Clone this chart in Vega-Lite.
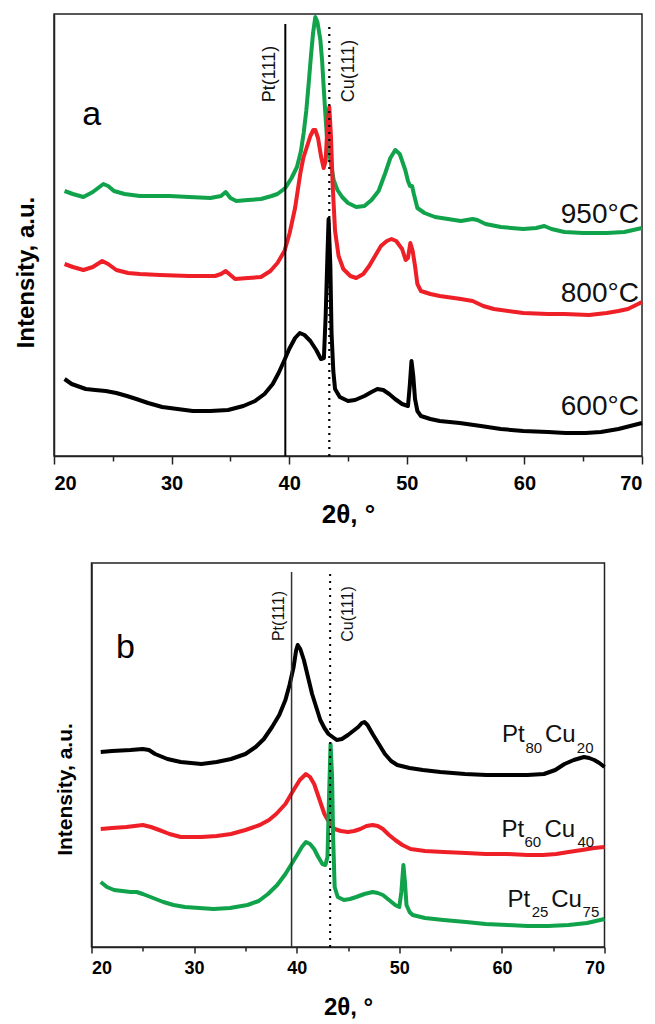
{
  "$schema": "https://vega.github.io/schema/vega-lite/v6.json",
  "padding": {"left": 13, "top": 13, "right": 2, "bottom": 2},
  "background": "white",
  "center": true,
  "bounds": "flush",
  "spacing": 107,
  "resolve": {"scale": {"color": "independent"}},
  "config": {
    "font": "Liberation Sans",
    "view": {"stroke": "#222", "strokeWidth": 1.5},
    "text": {"font": "Liberation Sans"},
    "axis": {"domainColor": "#222", "domainWidth": 1.5, "tickColor": "#222", "tickWidth": 1.5, "grid": false, "labelColor": "#000", "titleColor": "#000", "labelFont": "Liberation Sans", "titleFont": "Liberation Sans", "labelFontWeight": "bold", "titleFontWeight": "bold"}
  },
  "datasets": {
    "curvesA": [
      {"series":"950","theta":20.9,"intensity":265},{"series":"950","theta":21.6,"intensity":262},{"series":"950","theta":22.5,"intensity":259},{"series":"950","theta":23.3,"intensity":264},{"series":"950","theta":24.2,"intensity":272},{"series":"950","theta":24.6,"intensity":270},{"series":"950","theta":25.1,"intensity":265},{"series":"950","theta":26.0,"intensity":262},{"series":"950","theta":27.3,"intensity":260},{"series":"950","theta":29.8,"intensity":260},{"series":"950","theta":31.5,"intensity":259},{"series":"950","theta":33.3,"intensity":258},{"series":"950","theta":34.2,"intensity":260},{"series":"950","theta":34.6,"intensity":264},{"series":"950","theta":35.0,"intensity":258},{"series":"950","theta":35.5,"intensity":255},{"series":"950","theta":36.5,"intensity":256},{"series":"950","theta":37.6,"intensity":257},{"series":"950","theta":38.5,"intensity":260},{"series":"950","theta":39.0,"intensity":262},{"series":"950","theta":39.67,"intensity":268},{"series":"950","theta":40.2,"intensity":278},{"series":"950","theta":40.66,"intensity":289},{"series":"950","theta":41.0,"intensity":305},{"series":"950","theta":41.23,"intensity":323},{"series":"950","theta":41.45,"intensity":345},{"series":"950","theta":41.66,"intensity":373},{"series":"950","theta":41.85,"intensity":400},{"series":"950","theta":42.03,"intensity":423},{"series":"950","theta":42.22,"intensity":439},{"series":"950","theta":42.4,"intensity":434},{"series":"950","theta":42.65,"intensity":416},{"series":"950","theta":42.8,"intensity":395},{"series":"950","theta":42.93,"intensity":369},{"series":"950","theta":43.07,"intensity":343},{"series":"950","theta":43.2,"intensity":320},{"series":"950","theta":43.4,"intensity":303},{"series":"950","theta":43.78,"intensity":276},{"series":"950","theta":44.1,"intensity":266},{"series":"950","theta":44.5,"intensity":259},{"series":"950","theta":45.0,"intensity":253},{"series":"950","theta":45.7,"intensity":249},{"series":"950","theta":46.4,"intensity":250},{"series":"950","theta":47.0,"intensity":256},{"series":"950","theta":47.6,"intensity":265},{"series":"950","theta":48.17,"intensity":283},{"series":"950","theta":48.6,"intensity":298},{"series":"950","theta":49.02,"intensity":306},{"series":"950","theta":49.4,"intensity":302},{"series":"950","theta":49.87,"intensity":286},{"series":"950","theta":50.1,"intensity":275},{"series":"950","theta":50.27,"intensity":270},{"series":"950","theta":50.45,"intensity":270},{"series":"950","theta":50.6,"intensity":262},{"series":"950","theta":50.9,"intensity":248},{"series":"950","theta":51.5,"intensity":243},{"series":"950","theta":52.4,"intensity":239},{"series":"950","theta":53.5,"intensity":237},{"series":"950","theta":54.6,"intensity":235},{"series":"950","theta":55.6,"intensity":237},{"series":"950","theta":56.0,"intensity":236},{"series":"950","theta":56.7,"intensity":232},{"series":"950","theta":58.0,"intensity":229},{"series":"950","theta":59.9,"intensity":227},{"series":"950","theta":61.0,"intensity":228},{"series":"950","theta":61.7,"intensity":230},{"series":"950","theta":62.3,"intensity":227},{"series":"950","theta":63.4,"intensity":224},{"series":"950","theta":65.0,"intensity":223},{"series":"950","theta":67.0,"intensity":223},{"series":"950","theta":68.5,"intensity":224},{"series":"950","theta":70.0,"intensity":228},
      {"series":"800","theta":20.9,"intensity":192},{"series":"800","theta":21.6,"intensity":189},{"series":"800","theta":22.5,"intensity":186},{"series":"800","theta":23.3,"intensity":189},{"series":"800","theta":24.1,"intensity":195},{"series":"800","theta":24.6,"intensity":192},{"series":"800","theta":25.3,"intensity":186},{"series":"800","theta":26.3,"intensity":183},{"series":"800","theta":27.3,"intensity":182},{"series":"800","theta":29.0,"intensity":181},{"series":"800","theta":31.5,"intensity":180},{"series":"800","theta":33.7,"intensity":180},{"series":"800","theta":34.2,"intensity":182},{"series":"800","theta":34.6,"intensity":185},{"series":"800","theta":35.0,"intensity":181},{"series":"800","theta":35.4,"intensity":177},{"series":"800","theta":36.5,"intensity":178},{"series":"800","theta":37.6,"intensity":179},{"series":"800","theta":38.4,"intensity":185},{"series":"800","theta":39.0,"intensity":193},{"series":"800","theta":39.6,"intensity":205},{"series":"800","theta":40.04,"intensity":223},{"series":"800","theta":40.5,"intensity":248},{"series":"800","theta":40.95,"intensity":283},{"series":"800","theta":41.2,"intensity":298},{"series":"800","theta":41.5,"intensity":309},{"series":"800","theta":41.8,"intensity":320},{"series":"800","theta":42.05,"intensity":326},{"series":"800","theta":42.22,"intensity":326},{"series":"800","theta":42.45,"intensity":318},{"series":"800","theta":42.7,"intensity":300},{"series":"800","theta":42.93,"intensity":288},{"series":"800","theta":43.1,"intensity":295},{"series":"800","theta":43.25,"intensity":330},{"series":"800","theta":43.41,"intensity":349},{"series":"800","theta":43.55,"intensity":320},{"series":"800","theta":43.7,"intensity":270},{"series":"800","theta":43.9,"intensity":225},{"series":"800","theta":44.2,"intensity":200},{"series":"800","theta":44.6,"intensity":187},{"series":"800","theta":45.2,"intensity":180},{"series":"800","theta":45.7,"intensity":178},{"series":"800","theta":46.3,"intensity":182},{"series":"800","theta":46.8,"intensity":190},{"series":"800","theta":47.3,"intensity":200},{"series":"800","theta":47.8,"intensity":210},{"series":"800","theta":48.3,"intensity":215},{"series":"800","theta":48.7,"intensity":217},{"series":"800","theta":49.1,"intensity":215},{"series":"800","theta":49.6,"intensity":207},{"series":"800","theta":49.9,"intensity":196},{"series":"800","theta":50.1,"intensity":198},{"series":"800","theta":50.3,"intensity":213},{"series":"800","theta":50.5,"intensity":205},{"series":"800","theta":50.7,"intensity":190},{"series":"800","theta":50.9,"intensity":172},{"series":"800","theta":51.2,"intensity":165},{"series":"800","theta":52.0,"intensity":162},{"series":"800","theta":52.8,"intensity":160},{"series":"800","theta":54.6,"intensity":157},{"series":"800","theta":55.6,"intensity":155},{"series":"800","theta":56.5,"intensity":150},{"series":"800","theta":57.4,"intensity":147},{"series":"800","theta":59.9,"intensity":143},{"series":"800","theta":62.0,"intensity":142},{"series":"800","theta":63.4,"intensity":142},{"series":"800","theta":65.5,"intensity":141},{"series":"800","theta":67.0,"intensity":143},{"series":"800","theta":68.0,"intensity":145},{"series":"800","theta":68.8,"intensity":147},{"series":"800","theta":69.5,"intensity":151},{"series":"800","theta":70.0,"intensity":154},
      {"series":"600","theta":20.9,"intensity":77},{"series":"600","theta":21.5,"intensity":72},{"series":"600","theta":22.7,"intensity":67},{"series":"600","theta":23.5,"intensity":66},{"series":"600","theta":24.4,"intensity":65},{"series":"600","theta":25.3,"intensity":63},{"series":"600","theta":26.2,"intensity":60},{"series":"600","theta":27.0,"intensity":57},{"series":"600","theta":28.0,"intensity":53},{"series":"600","theta":29.2,"intensity":49},{"series":"600","theta":30.5,"intensity":47},{"series":"600","theta":31.8,"intensity":45},{"series":"600","theta":33.3,"intensity":45},{"series":"600","theta":34.8,"intensity":46},{"series":"600","theta":36.1,"intensity":50},{"series":"600","theta":37.1,"intensity":55},{"series":"600","theta":37.9,"intensity":62},{"series":"600","theta":38.6,"intensity":72},{"series":"600","theta":39.1,"intensity":83},{"series":"600","theta":39.6,"intensity":96},{"series":"600","theta":40.0,"intensity":107},{"series":"600","theta":40.5,"intensity":118},{"series":"600","theta":40.9,"intensity":123},{"series":"600","theta":41.3,"intensity":121},{"series":"600","theta":41.8,"intensity":115},{"series":"600","theta":42.3,"intensity":106},{"series":"600","theta":42.7,"intensity":97},{"series":"600","theta":42.95,"intensity":98},{"series":"600","theta":43.1,"intensity":140},{"series":"600","theta":43.25,"intensity":200},{"series":"600","theta":43.35,"intensity":237},{"series":"600","theta":43.5,"intensity":190},{"series":"600","theta":43.6,"intensity":123},{"series":"600","theta":43.75,"intensity":85},{"series":"600","theta":43.9,"intensity":67},{"series":"600","theta":44.3,"intensity":59},{"series":"600","theta":45.0,"intensity":55},{"series":"600","theta":45.6,"intensity":56},{"series":"600","theta":46.4,"intensity":60},{"series":"600","theta":47.0,"intensity":64},{"series":"600","theta":47.5,"intensity":67},{"series":"600","theta":48.0,"intensity":66},{"series":"600","theta":48.5,"intensity":62},{"series":"600","theta":49.0,"intensity":57},{"series":"600","theta":49.6,"intensity":52},{"series":"600","theta":50.1,"intensity":50},{"series":"600","theta":50.25,"intensity":70},{"series":"600","theta":50.4,"intensity":95},{"series":"600","theta":50.55,"intensity":80},{"series":"600","theta":50.7,"intensity":57},{"series":"600","theta":50.9,"intensity":45},{"series":"600","theta":51.2,"intensity":40},{"series":"600","theta":52.0,"intensity":37},{"series":"600","theta":52.8,"intensity":35},{"series":"600","theta":54.5,"intensity":33},{"series":"600","theta":56.3,"intensity":30},{"series":"600","theta":58.0,"intensity":27},{"series":"600","theta":59.9,"intensity":25},{"series":"600","theta":62.0,"intensity":24},{"series":"600","theta":63.5,"intensity":23},{"series":"600","theta":65.2,"intensity":23},{"series":"600","theta":66.5,"intensity":24},{"series":"600","theta":68.0,"intensity":27},{"series":"600","theta":69.0,"intensity":30},{"series":"600","theta":70.0,"intensity":33}
    ],
    "curvesB": [
      {"series":"Pt80Cu20","theta":20.9,"intensity":195},{"series":"Pt80Cu20","theta":22.0,"intensity":196},{"series":"Pt80Cu20","theta":23.8,"intensity":197},{"series":"Pt80Cu20","theta":25.0,"intensity":198},{"series":"Pt80Cu20","theta":25.6,"intensity":197},{"series":"Pt80Cu20","theta":26.2,"intensity":193},{"series":"Pt80Cu20","theta":27.4,"intensity":188},{"series":"Pt80Cu20","theta":28.7,"intensity":185},{"series":"Pt80Cu20","theta":30.7,"intensity":183},{"series":"Pt80Cu20","theta":32.2,"intensity":185},{"series":"Pt80Cu20","theta":33.6,"intensity":188},{"series":"Pt80Cu20","theta":35.0,"intensity":193},{"series":"Pt80Cu20","theta":36.0,"intensity":200},{"series":"Pt80Cu20","theta":36.8,"intensity":208},{"series":"Pt80Cu20","theta":37.6,"intensity":220},{"series":"Pt80Cu20","theta":38.3,"intensity":232},{"series":"Pt80Cu20","theta":38.9,"intensity":247},{"series":"Pt80Cu20","theta":39.3,"intensity":262},{"series":"Pt80Cu20","theta":39.7,"intensity":280},{"series":"Pt80Cu20","theta":39.95,"intensity":297},{"series":"Pt80Cu20","theta":40.1,"intensity":302},{"series":"Pt80Cu20","theta":40.35,"intensity":298},{"series":"Pt80Cu20","theta":40.7,"intensity":287},{"series":"Pt80Cu20","theta":41.1,"intensity":270},{"series":"Pt80Cu20","theta":41.5,"intensity":253},{"series":"Pt80Cu20","theta":41.9,"intensity":240},{"series":"Pt80Cu20","theta":42.3,"intensity":227},{"series":"Pt80Cu20","theta":42.7,"intensity":219},{"series":"Pt80Cu20","theta":43.1,"intensity":213},{"series":"Pt80Cu20","theta":43.5,"intensity":210},{"series":"Pt80Cu20","theta":43.9,"intensity":207},{"series":"Pt80Cu20","theta":44.4,"intensity":208},{"series":"Pt80Cu20","theta":45.0,"intensity":212},{"series":"Pt80Cu20","theta":45.5,"intensity":216},{"series":"Pt80Cu20","theta":46.0,"intensity":220},{"series":"Pt80Cu20","theta":46.35,"intensity":224},{"series":"Pt80Cu20","theta":46.6,"intensity":225},{"series":"Pt80Cu20","theta":46.9,"intensity":222},{"series":"Pt80Cu20","theta":47.4,"intensity":213},{"series":"Pt80Cu20","theta":48.0,"intensity":203},{"series":"Pt80Cu20","theta":48.6,"intensity":193},{"series":"Pt80Cu20","theta":49.2,"intensity":186},{"series":"Pt80Cu20","theta":49.8,"intensity":182},{"series":"Pt80Cu20","theta":51.0,"intensity":179},{"series":"Pt80Cu20","theta":52.3,"intensity":177},{"series":"Pt80Cu20","theta":54.0,"intensity":175},{"series":"Pt80Cu20","theta":56.4,"intensity":173},{"series":"Pt80Cu20","theta":58.5,"intensity":172},{"series":"Pt80Cu20","theta":60.4,"intensity":172},{"series":"Pt80Cu20","theta":62.5,"intensity":172},{"series":"Pt80Cu20","theta":64.1,"intensity":173},{"series":"Pt80Cu20","theta":65.2,"intensity":177},{"series":"Pt80Cu20","theta":66.1,"intensity":183},{"series":"Pt80Cu20","theta":67.0,"intensity":187},{"series":"Pt80Cu20","theta":68.0,"intensity":190},{"series":"Pt80Cu20","theta":68.5,"intensity":189},{"series":"Pt80Cu20","theta":69.0,"intensity":187},{"series":"Pt80Cu20","theta":69.5,"intensity":184},{"series":"Pt80Cu20","theta":70.0,"intensity":180},
      {"series":"Pt60Cu40","theta":20.9,"intensity":118},{"series":"Pt60Cu40","theta":22.0,"intensity":119},{"series":"Pt60Cu40","theta":23.4,"intensity":120},{"series":"Pt60Cu40","theta":25.0,"intensity":122},{"series":"Pt60Cu40","theta":25.8,"intensity":120},{"series":"Pt60Cu40","theta":26.6,"intensity":117},{"series":"Pt60Cu40","theta":27.6,"intensity":113},{"series":"Pt60Cu40","theta":28.7,"intensity":110},{"series":"Pt60Cu40","theta":30.7,"intensity":110},{"series":"Pt60Cu40","theta":32.2,"intensity":111},{"series":"Pt60Cu40","theta":33.6,"intensity":113},{"series":"Pt60Cu40","theta":35.0,"intensity":117},{"series":"Pt60Cu40","theta":36.4,"intensity":122},{"series":"Pt60Cu40","theta":37.3,"intensity":127},{"series":"Pt60Cu40","theta":38.0,"intensity":133},{"series":"Pt60Cu40","theta":38.9,"intensity":143},{"series":"Pt60Cu40","theta":39.7,"intensity":157},{"series":"Pt60Cu40","theta":40.3,"intensity":167},{"series":"Pt60Cu40","theta":40.9,"intensity":173},{"series":"Pt60Cu40","theta":41.3,"intensity":170},{"series":"Pt60Cu40","theta":41.7,"intensity":163},{"series":"Pt60Cu40","theta":42.2,"intensity":148},{"series":"Pt60Cu40","theta":42.7,"intensity":133},{"series":"Pt60Cu40","theta":43.2,"intensity":124},{"series":"Pt60Cu40","theta":43.7,"intensity":118},{"series":"Pt60Cu40","theta":44.3,"intensity":116},{"series":"Pt60Cu40","theta":45.0,"intensity":115},{"series":"Pt60Cu40","theta":45.6,"intensity":116},{"series":"Pt60Cu40","theta":46.2,"intensity":118},{"series":"Pt60Cu40","theta":46.8,"intensity":121},{"series":"Pt60Cu40","theta":47.4,"intensity":122},{"series":"Pt60Cu40","theta":47.9,"intensity":121},{"series":"Pt60Cu40","theta":48.4,"intensity":118},{"series":"Pt60Cu40","theta":49.0,"intensity":112},{"series":"Pt60Cu40","theta":49.6,"intensity":107},{"series":"Pt60Cu40","theta":50.3,"intensity":102},{"series":"Pt60Cu40","theta":51.1,"intensity":98},{"series":"Pt60Cu40","theta":52.5,"intensity":96},{"series":"Pt60Cu40","theta":54.3,"intensity":95},{"series":"Pt60Cu40","theta":56.5,"intensity":94},{"series":"Pt60Cu40","theta":58.4,"intensity":93},{"series":"Pt60Cu40","theta":60.5,"intensity":93},{"series":"Pt60Cu40","theta":62.5,"intensity":92},{"series":"Pt60Cu40","theta":64.0,"intensity":92},{"series":"Pt60Cu40","theta":65.3,"intensity":93},{"series":"Pt60Cu40","theta":66.5,"intensity":95},{"series":"Pt60Cu40","theta":67.8,"intensity":97},{"series":"Pt60Cu40","theta":69.0,"intensity":99},{"series":"Pt60Cu40","theta":70.0,"intensity":100},
      {"series":"Pt25Cu75","theta":20.9,"intensity":65},{"series":"Pt25Cu75","theta":21.5,"intensity":60},{"series":"Pt25Cu75","theta":22.2,"intensity":57},{"series":"Pt25Cu75","theta":23.0,"intensity":56},{"series":"Pt25Cu75","theta":23.8,"intensity":55},{"series":"Pt25Cu75","theta":24.4,"intensity":55},{"series":"Pt25Cu75","theta":25.0,"intensity":53},{"series":"Pt25Cu75","theta":26.0,"intensity":49},{"series":"Pt25Cu75","theta":27.0,"intensity":45},{"series":"Pt25Cu75","theta":28.0,"intensity":42},{"series":"Pt25Cu75","theta":29.1,"intensity":40},{"series":"Pt25Cu75","theta":30.5,"intensity":39},{"series":"Pt25Cu75","theta":31.9,"intensity":38},{"series":"Pt25Cu75","theta":33.5,"intensity":39},{"series":"Pt25Cu75","theta":35.2,"intensity":42},{"series":"Pt25Cu75","theta":36.3,"intensity":46},{"series":"Pt25Cu75","theta":37.2,"intensity":53},{"series":"Pt25Cu75","theta":38.1,"intensity":62},{"series":"Pt25Cu75","theta":38.9,"intensity":73},{"series":"Pt25Cu75","theta":39.5,"intensity":83},{"series":"Pt25Cu75","theta":40.1,"intensity":93},{"series":"Pt25Cu75","theta":40.5,"intensity":100},{"series":"Pt25Cu75","theta":40.9,"intensity":105},{"series":"Pt25Cu75","theta":41.3,"intensity":103},{"series":"Pt25Cu75","theta":41.7,"intensity":98},{"series":"Pt25Cu75","theta":42.1,"intensity":90},{"series":"Pt25Cu75","theta":42.5,"intensity":83},{"series":"Pt25Cu75","theta":42.8,"intensity":82},{"series":"Pt25Cu75","theta":43.0,"intensity":90},{"series":"Pt25Cu75","theta":43.15,"intensity":150},{"series":"Pt25Cu75","theta":43.3,"intensity":203},{"series":"Pt25Cu75","theta":43.45,"intensity":170},{"series":"Pt25Cu75","theta":43.55,"intensity":110},{"series":"Pt25Cu75","theta":43.7,"intensity":60},{"series":"Pt25Cu75","theta":44.0,"intensity":50},{"series":"Pt25Cu75","theta":44.6,"intensity":47},{"series":"Pt25Cu75","theta":45.2,"intensity":48},{"series":"Pt25Cu75","theta":45.8,"intensity":50},{"series":"Pt25Cu75","theta":46.6,"intensity":53},{"series":"Pt25Cu75","theta":47.4,"intensity":55},{"series":"Pt25Cu75","theta":47.9,"intensity":54},{"series":"Pt25Cu75","theta":48.4,"intensity":52},{"series":"Pt25Cu75","theta":49.0,"intensity":47},{"series":"Pt25Cu75","theta":49.6,"intensity":42},{"series":"Pt25Cu75","theta":50.0,"intensity":40},{"series":"Pt25Cu75","theta":50.2,"intensity":55},{"series":"Pt25Cu75","theta":50.4,"intensity":82},{"series":"Pt25Cu75","theta":50.55,"intensity":65},{"series":"Pt25Cu75","theta":50.7,"intensity":42},{"series":"Pt25Cu75","theta":51.0,"intensity":35},{"series":"Pt25Cu75","theta":51.3,"intensity":32},{"series":"Pt25Cu75","theta":52.5,"intensity":29},{"series":"Pt25Cu75","theta":54.3,"intensity":27},{"series":"Pt25Cu75","theta":56.5,"intensity":25},{"series":"Pt25Cu75","theta":58.4,"intensity":23},{"series":"Pt25Cu75","theta":60.5,"intensity":22},{"series":"Pt25Cu75","theta":62.5,"intensity":21},{"series":"Pt25Cu75","theta":64.5,"intensity":21},{"series":"Pt25Cu75","theta":66.5,"intensity":22},{"series":"Pt25Cu75","theta":68.3,"intensity":24},{"series":"Pt25Cu75","theta":70.0,"intensity":28}
    ],
    "refA": [
      {"name":"Pt(111)","theta":39.67,"low":0,"high":432,"labelTheta":38.4,"labelY":382},
      {"name":"Cu(111)","theta":43.41,"low":0,"high":432,"labelTheta":45.1,"labelY":385}
    ],
    "refB": [
      {"name":"Pt(111)","theta":39.5,"low":0,"high":375,"labelTheta":38.27,"labelY":331},
      {"name":"Cu(111)","theta":43.26,"low":0,"high":377,"labelTheta":45.02,"labelY":333}
    ],
    "tempLabels": [
      {"label":"950°C","theta":69.74,"intensity":233},
      {"label":"800°C","theta":69.74,"intensity":154},
      {"label":"600°C","theta":69.74,"intensity":41}
    ],
    "compLabels": [
      {"part":"Pt","kind":"main","theta":60.0,"intensity":205},
      {"part":"80","kind":"sub","theta":62.3,"intensity":194},
      {"part":"Cu","kind":"main","theta":64.2,"intensity":205},
      {"part":"20","kind":"sub","theta":67.3,"intensity":194},
      {"part":"Pt","kind":"main","theta":59.96,"intensity":110},
      {"part":"60","kind":"sub","theta":62.2,"intensity":100},
      {"part":"Cu","kind":"main","theta":64.15,"intensity":110},
      {"part":"40","kind":"sub","theta":67.37,"intensity":100},
      {"part":"Pt","kind":"main","theta":60.55,"intensity":40},
      {"part":"25","kind":"sub","theta":62.9,"intensity":30},
      {"part":"Cu","kind":"main","theta":64.8,"intensity":40},
      {"part":"75","kind":"sub","theta":67.86,"intensity":30}
    ],
    "panelA": [{"label":"a","theta":22.4,"intensity":331}],
    "panelB": [{"label":"b","theta":22.4,"intensity":289}]
  },
  "vconcat": [
    {
      "width": 588,
      "height": 442,
      "layer": [
        {
          "data": {"name": "curvesA"},
          "mark": {"type": "line", "strokeWidth": 4, "strokeJoin": "round"},
          "encoding": {
            "x": {"field": "theta", "type": "quantitative", "scale": {"domain": [20, 70], "nice": false},
              "axis": {"title": "2θ, °", "values": [20,25,30,35,40,45,50,55,60,65,70], "labelExpr": "datum.value % 10 === 0 ? datum.label : ''", "labelFontSize": 20, "labelPadding": 9, "tickSize": {"condition": {"test": "datum.value % 10 === 0", "value": 8}, "value": 5}, "titleFontSize": 26, "titlePadding": 8}},
            "y": {"field": "intensity", "type": "quantitative", "scale": {"domain": [0, 442], "nice": false},
              "axis": {"title": "Intensity, a.u.", "labels": false, "ticks": false, "titleFontSize": 24, "titlePadding": 16, "titleY": 258}},
            "color": {"field": "series", "type": "nominal", "scale": {"domain": ["950","800","600"], "range": ["#11a24c","#ee1f26","#000000"]}, "legend": null},
            "detail": {"field": "series"}
          }
        },
        {
          "data": {"name": "refA"},
          "transform": [{"filter": "datum.name === 'Pt(111)'"}],
          "mark": {"type": "rule", "color": "#000", "strokeWidth": 2},
          "encoding": {"x": {"field": "theta", "type": "quantitative"}, "y": {"field": "low", "type": "quantitative"}, "y2": {"field": "high"}}
        },
        {
          "data": {"name": "refA"},
          "transform": [{"filter": "datum.name === 'Cu(111)'"}],
          "mark": {"type": "rule", "color": "#000", "strokeWidth": 2.2, "strokeDash": [2, 5]},
          "encoding": {"x": {"field": "theta", "type": "quantitative"}, "y": {"field": "low", "type": "quantitative"}, "y2": {"field": "high"}}
        },
        {
          "data": {"name": "refA"},
          "mark": {"type": "text", "angle": 270, "fontSize": 18, "align": "center", "baseline": "middle", "color": "#111"},
          "encoding": {"x": {"field": "labelTheta", "type": "quantitative"}, "y": {"field": "labelY", "type": "quantitative"}, "text": {"field": "name"}}
        },
        {
          "data": {"name": "tempLabels"},
          "mark": {"type": "text", "fontSize": 28, "align": "right", "baseline": "alphabetic", "color": "#111"},
          "encoding": {"x": {"field": "theta", "type": "quantitative"}, "y": {"field": "intensity", "type": "quantitative"}, "text": {"field": "label"}}
        },
        {
          "data": {"name": "panelA"},
          "mark": {"type": "text", "fontSize": 34, "align": "left", "baseline": "alphabetic", "color": "#000"},
          "encoding": {"x": {"field": "theta", "type": "quantitative"}, "y": {"field": "intensity", "type": "quantitative"}, "text": {"field": "label"}}
        }
      ]
    },
    {
      "width": 513,
      "height": 384,
      "layer": [
        {
          "data": {"name": "curvesB"},
          "mark": {"type": "line", "strokeWidth": 4, "strokeJoin": "round"},
          "encoding": {
            "x": {"field": "theta", "type": "quantitative", "scale": {"domain": [20, 70], "nice": false},
              "axis": {"title": "2θ, °", "values": [20,25,30,35,40,45,50,55,60,65,70], "labelExpr": "datum.value % 10 === 0 ? datum.label : ''", "labelFontSize": 18, "labelPadding": 6, "tickSize": {"condition": {"test": "datum.value % 10 === 0", "value": 6}, "value": 4}, "titleFontSize": 24, "titlePadding": 18}},
            "y": {"field": "intensity", "type": "quantitative", "scale": {"domain": [0, 384], "nice": false},
              "axis": {"title": "Intensity, a.u.", "labels": false, "ticks": false, "titleFontSize": 21, "titlePadding": 16, "titleY": 226}},
            "color": {"field": "series", "type": "nominal", "scale": {"domain": ["Pt80Cu20","Pt60Cu40","Pt25Cu75"], "range": ["#000000","#ee1f26","#11a24c"]}, "legend": null},
            "detail": {"field": "series"}
          }
        },
        {
          "data": {"name": "refB"},
          "transform": [{"filter": "datum.name === 'Pt(111)'"}],
          "mark": {"type": "rule", "color": "#333", "strokeWidth": 1.5},
          "encoding": {"x": {"field": "theta", "type": "quantitative"}, "y": {"field": "low", "type": "quantitative"}, "y2": {"field": "high"}}
        },
        {
          "data": {"name": "refB"},
          "transform": [{"filter": "datum.name === 'Cu(111)'"}],
          "mark": {"type": "rule", "color": "#000", "strokeWidth": 2, "strokeDash": [2, 5]},
          "encoding": {"x": {"field": "theta", "type": "quantitative"}, "y": {"field": "low", "type": "quantitative"}, "y2": {"field": "high"}}
        },
        {
          "data": {"name": "refB"},
          "mark": {"type": "text", "angle": 270, "fontSize": 16, "align": "center", "baseline": "middle", "color": "#111"},
          "encoding": {"x": {"field": "labelTheta", "type": "quantitative"}, "y": {"field": "labelY", "type": "quantitative"}, "text": {"field": "name"}}
        },
        {
          "data": {"name": "compLabels"},
          "transform": [{"filter": "datum.kind === 'main'"}],
          "mark": {"type": "text", "fontSize": 24, "align": "left", "baseline": "alphabetic", "color": "#111"},
          "encoding": {"x": {"field": "theta", "type": "quantitative"}, "y": {"field": "intensity", "type": "quantitative"}, "text": {"field": "part"}}
        },
        {
          "data": {"name": "compLabels"},
          "transform": [{"filter": "datum.kind === 'sub'"}],
          "mark": {"type": "text", "fontSize": 15, "align": "left", "baseline": "alphabetic", "color": "#111"},
          "encoding": {"x": {"field": "theta", "type": "quantitative"}, "y": {"field": "intensity", "type": "quantitative"}, "text": {"field": "part"}}
        },
        {
          "data": {"name": "panelB"},
          "mark": {"type": "text", "fontSize": 34, "align": "left", "baseline": "alphabetic", "color": "#000"},
          "encoding": {"x": {"field": "theta", "type": "quantitative"}, "y": {"field": "intensity", "type": "quantitative"}, "text": {"field": "label"}}
        }
      ]
    }
  ]
}
